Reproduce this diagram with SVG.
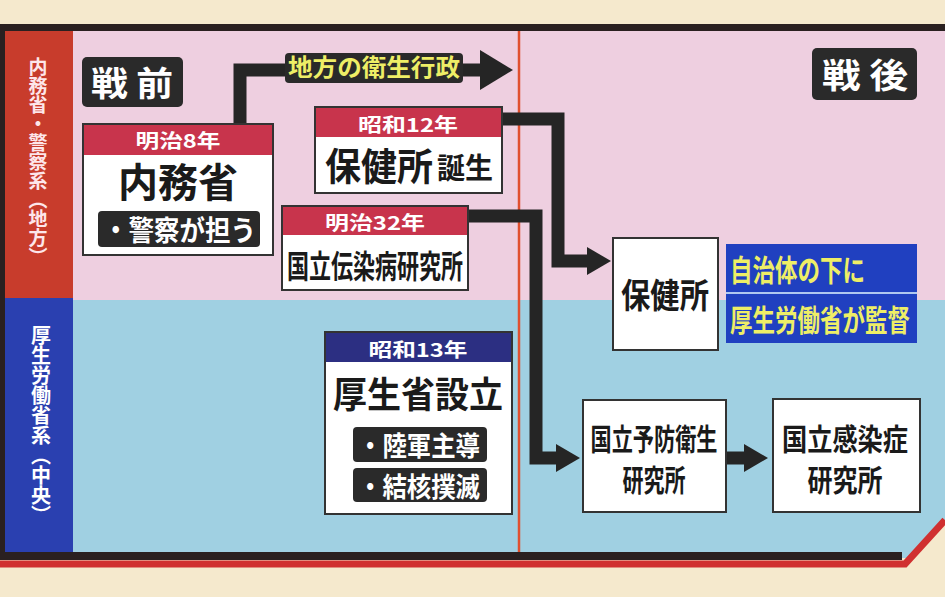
<svg xmlns="http://www.w3.org/2000/svg" width="945" height="597" viewBox="0 0 945 597">
<style>
text{font-family:"Noto Sans CJK JP","Noto Sans CJK SC",sans-serif;font-weight:700;}
.box{fill:#ffffff;stroke:#333333;stroke-width:2;}
.hr{fill:#c8344c;}
.hn{fill:#2c2f82;}
.dk{fill:#2a2a2a;}
.ht{fill:#ffffff;font-size:19px;text-anchor:middle;}
.nt{fill:#1a1a1a;}
.wt{fill:#ffffff;}
.yt{fill:#eeee66;}
.con{fill:none;stroke:#252525;stroke-width:13;stroke-linejoin:miter;}
.side{writing-mode:vertical-rl;}
</style>
<defs>
<marker id="ah" markerUnits="userSpaceOnUse" viewBox="0 0 24 28" markerWidth="24" markerHeight="28" refX="0" refY="14" orient="auto"><path d="M0,0 L24,14 L0,28 Z" fill="#252525"/></marker>
<marker id="ahL" markerUnits="userSpaceOnUse" viewBox="0 0 33 40" markerWidth="33" markerHeight="40" refX="0" refY="20" orient="auto"><path d="M0,0 L33,20 L0,40 Z" fill="#252525"/></marker>
</defs>

<!-- background and frame -->
<rect x="0" y="0" width="945" height="597" fill="#f5e9cd"/>
<rect x="0" y="24" width="945" height="8" fill="#2a2020"/>
<rect x="73" y="31" width="872" height="269" fill="#eecfe0"/>
<rect x="73" y="300" width="872" height="258" fill="#a0d0e2"/>
<rect x="0" y="24" width="5" height="536" fill="#2a2020"/>
<rect x="5" y="31" width="68" height="267" fill="#c83c2c"/>
<rect x="5" y="298" width="68" height="256" fill="#2a40b0"/>
<polygon points="903,567 945,521 945,597 903,597" fill="#f5e9cd"/>
<rect x="0" y="552" width="902" height="8" fill="#2a2020"/>
<polyline points="0,564 905,564 945,520" fill="none" stroke="#d03030" stroke-width="7"/>
<line x1="519" y1="31" x2="519" y2="552" stroke="#e05030" stroke-width="2.5"/>

<!-- side labels -->
<g id="side-top"><text class="side" x="38" y="57" font-size="19" fill="#fde6ea">内務省・警察系（地方）</text></g>
<g id="side-bottom"><text class="side" x="41" y="325" font-size="20" fill="#ffffff">厚生労働省系（中央）</text></g>

<!-- connectors -->
<g id="connectors">
<path class="con" d="M240,124 V70 H480" marker-end="url(#ahL)"/>
<path class="con" d="M502,119 H558 V261 H587" marker-end="url(#ah)"/>
<path class="con" d="M468,216 H536 V458 H556" marker-end="url(#ah)"/>
<path class="con" d="M726,458 H744" marker-end="url(#ah)"/>
<rect x="285" y="53" width="178" height="30" rx="4" class="dk"/>
<text class="yt" x="288" y="76" font-size="24" textLength="172" lengthAdjust="spacingAndGlyphs">地方の衛生行政</text>
</g>

<!-- 戦前 / 戦後 -->
<g id="senzen">
<rect x="82" y="57" width="101" height="50" rx="5" class="dk"/>
<text class="wt" x="91" y="96" font-size="34" textLength="82" lengthAdjust="spacingAndGlyphs">戦 前</text>
</g>
<g id="sengo">
<rect x="812" y="48" width="105" height="52" rx="5" class="dk"/>
<text class="wt" x="822" y="88" font-size="34" textLength="86" lengthAdjust="spacingAndGlyphs">戦 後</text>
</g>

<!-- 明治8年 内務省 -->
<g id="naimusho">
<rect x="83" y="124" width="190" height="131" class="box"/>
<rect x="84" y="125" width="188" height="30" class="hr"/>
<text class="ht" x="178" y="148" textLength="85" lengthAdjust="spacingAndGlyphs">明治8年</text>
<text class="nt" x="178" y="197" font-size="40" text-anchor="middle" textLength="120" lengthAdjust="spacingAndGlyphs">内務省</text>
<rect x="98" y="211" width="162" height="36" rx="4" class="dk"/>
<text class="wt" x="103" y="241" font-size="28" textLength="153" lengthAdjust="spacingAndGlyphs">・警察が担う</text>
</g>

<!-- 昭和12年 保健所誕生 -->
<g id="hokenjo-birth">
<rect x="315" y="107" width="187" height="86" class="box"/>
<rect x="316" y="108" width="185" height="29" class="hr"/>
<text class="ht" x="408" y="132" textLength="100" lengthAdjust="spacingAndGlyphs">昭和12年</text>
<text class="nt" x="325" y="180" font-size="38" textLength="108" lengthAdjust="spacingAndGlyphs">保健所</text>
<text class="nt" x="437" y="179" font-size="29" textLength="56" lengthAdjust="spacingAndGlyphs">誕生</text>
</g>

<!-- 明治32年 国立伝染病研究所 -->
<g id="densenbyo">
<rect x="282" y="206" width="186" height="84" class="box"/>
<rect x="283" y="207" width="184" height="28" class="hr"/>
<text class="ht" x="375" y="230" textLength="100" lengthAdjust="spacingAndGlyphs">明治32年</text>
<text class="nt" x="287" y="278" font-size="32" textLength="176" lengthAdjust="spacingAndGlyphs">国立伝染病研究所</text>
</g>

<!-- 昭和13年 厚生省設立 -->
<g id="koseisho">
<rect x="325" y="332" width="187" height="182" class="box"/>
<rect x="326" y="333" width="185" height="29" class="hn"/>
<text class="ht" x="418" y="357" textLength="99" lengthAdjust="spacingAndGlyphs">昭和13年</text>
<text class="nt" x="333" y="408" font-size="36" textLength="170" lengthAdjust="spacingAndGlyphs">厚生省設立</text>
<rect x="353" y="427" width="134" height="35" rx="4" class="dk"/>
<text class="wt" x="358" y="456" font-size="27" textLength="122" lengthAdjust="spacingAndGlyphs">・陸軍主導</text>
<rect x="353" y="468" width="134" height="34" rx="4" class="dk"/>
<text class="wt" x="358" y="497" font-size="27" textLength="122" lengthAdjust="spacingAndGlyphs">・結核撲滅</text>
</g>

<!-- 戦後 保健所 -->
<g id="hokenjo">
<rect x="613" y="238" width="105" height="112" class="box"/>
<text class="nt" x="665" y="308" font-size="34" text-anchor="middle" textLength="88" lengthAdjust="spacingAndGlyphs">保健所</text>
</g>

<!-- note -->
<g id="note">
<rect x="726" y="244" width="191" height="48" fill="#2040c0"/>
<rect x="726" y="294" width="191" height="49" fill="#2040c0"/>
<line x1="726" y1="293" x2="917" y2="293" stroke="#b0c8f0" stroke-width="2"/>
<text class="yt" transform="translate(730,281) scale(0.75,1)" x="0" y="0" font-size="30">自治体の下に</text>
<text class="yt" transform="translate(730,331) scale(0.75,1)" x="0" y="0" font-size="30">厚生労働省が監督</text>
</g>

<!-- 国立予防衛生研究所 -->
<g id="yobo">
<rect x="583" y="400" width="143" height="112" class="box"/>
<text class="nt" x="654" y="450" font-size="30" text-anchor="middle" textLength="127" lengthAdjust="spacingAndGlyphs">国立予防衛生</text>
<text class="nt" x="654" y="491" font-size="30" text-anchor="middle" textLength="63" lengthAdjust="spacingAndGlyphs">研究所</text>
</g>

<!-- 国立感染症研究所 -->
<g id="kansensho">
<rect x="773" y="399" width="147" height="113" class="box"/>
<text class="nt" x="845" y="450" font-size="30" text-anchor="middle" textLength="126" lengthAdjust="spacingAndGlyphs">国立感染症</text>
<text class="nt" x="845" y="491" font-size="30" text-anchor="middle" textLength="75" lengthAdjust="spacingAndGlyphs">研究所</text>
</g>
</svg>
